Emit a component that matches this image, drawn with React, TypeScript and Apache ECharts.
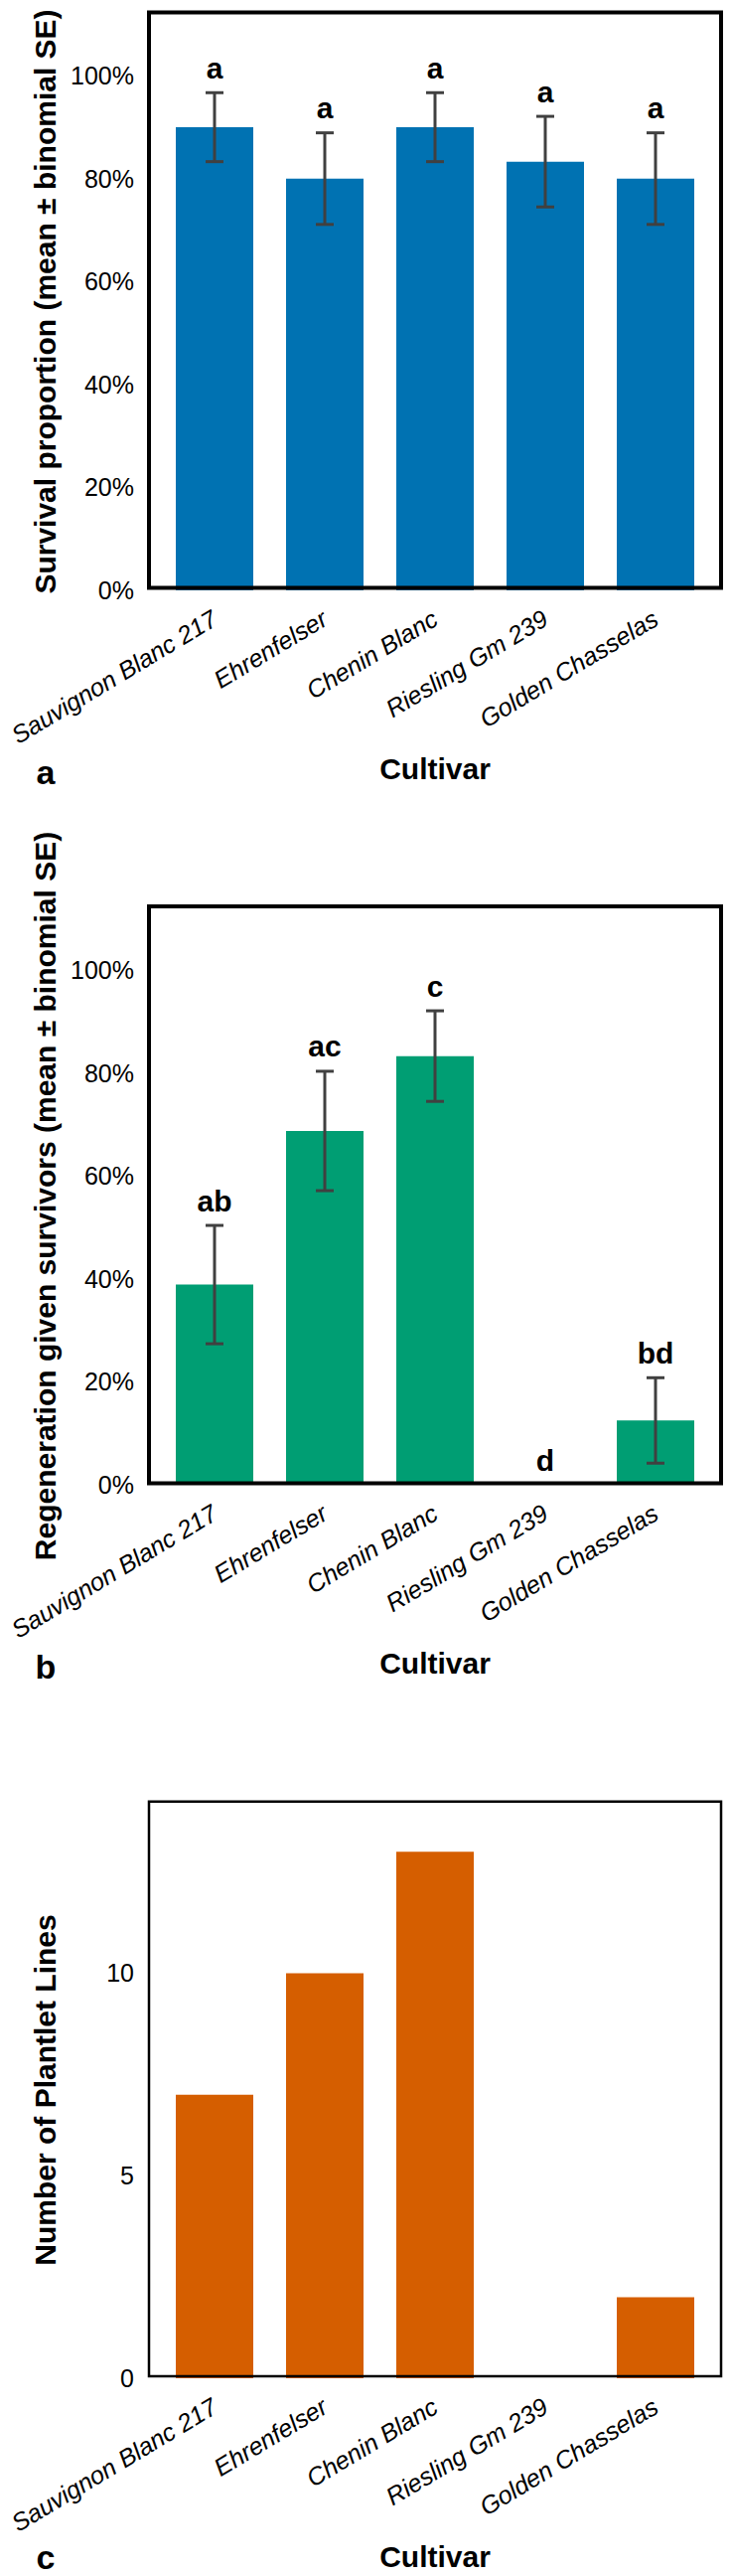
import React, { useEffect, useRef } from "react";
import * as echarts from "echarts";

// Cultivars on every panel's x axis
const cultivars = [
  "Sauvignon Blanc 217",
  "Ehrenfelser",
  "Chenin Blanc",
  "Riesling Gm 239",
  "Golden Chasselas",
];

// Panel a: survival proportion, mean and binomial SE, with group letters
const survivalMean = [0.9, 0.8, 0.9, 0.833, 0.8];
const survivalSE = [0.067, 0.089, 0.067, 0.088, 0.089];
const survivalLetters = ["a", "a", "a", "a", "a"];

// Panel b: regeneration given survivors, mean and binomial SE, with group letters
const regenMean = [0.389, 0.6875, 0.833, 0, 0.125];
const regenSE = [0.115, 0.116, 0.088, 0, 0.083];
const regenLetters = ["ab", "ac", "c", "d", "bd"];

// Panel c: number of plantlet lines
const plantletLines = [7, 10, 13, 0, 2];

// Tick labels shown on the value axes
const percentTicks = [0, 0.2, 0.4, 0.6, 0.8, 1.0];
const countTicks = [0, 5, 10];

const FONT = "'Liberation Sans', Arial, Helvetica, sans-serif";
const BLUE = "#0072B2";
const GREEN = "#009E73";
const ORANGE = "#D55E00";

// Grid geometry (category band inside each framed plot box)
const GRID_LEFT = 160.5;
const GRID_RIGHT = 20.5;
const PANEL_TOPS = [13, 913, 1813];
const PANEL_H = [581, 581, 580];

function isTick(v: number, ticks: number[]) {
  return ticks.some((t) => Math.abs(t - v) < 1e-6);
}

function errorSeries(idx: number, means: number[], ses: number[], letters: string[]) {
  return {
    type: "custom",
    xAxisIndex: idx,
    yAxisIndex: idx,
    z: 10,
    encode: { x: 0, y: [1, 2] },
    data: means.map((m, i) => [i, m - ses[i], m + ses[i]]),
    renderItem: (params: any, api: any) => {
      const i = api.value(0);
      const lo = api.coord([i, api.value(1)]);
      const hi = api.coord([i, api.value(2)]);
      const half = 9;
      const stroke = { stroke: "#404040", lineWidth: 3 };
      const children: any[] = [];
      if (lo[1] - hi[1] > 0.5) {
        children.push(
          { type: "line", shape: { x1: hi[0], y1: hi[1], x2: lo[0], y2: lo[1] }, style: stroke },
          { type: "line", shape: { x1: hi[0] - half, y1: hi[1], x2: hi[0] + half, y2: hi[1] }, style: stroke },
          { type: "line", shape: { x1: lo[0] - half, y1: lo[1], x2: lo[0] + half, y2: lo[1] }, style: stroke }
        );
      }
      children.push({
        type: "text",
        x: hi[0],
        y: hi[1] - 25,
        style: {
          text: letters[params.dataIndex],
          fontSize: 30,
          fontWeight: "bold",
          fontFamily: FONT,
          fill: "#000",
          align: "center",
          verticalAlign: "middle",
        },
      });
      return { type: "group", children };
    },
  };
}

export default function App() {
  const ref = useRef<HTMLDivElement>(null);

  useEffect(() => {
    if (!ref.current) return;
    const chart = echarts.init(ref.current, undefined, { renderer: "svg" });

    const grids = PANEL_TOPS.map((top, i) => ({
      left: GRID_LEFT,
      right: GRID_RIGHT,
      top,
      height: PANEL_H[i],
    }));

    const xAxes = PANEL_TOPS.map((_, i) => ({
      type: "category",
      gridIndex: i,
      data: cultivars,
      axisLine: { show: false },
      axisTick: { show: false },
      axisLabel: {
        interval: 0,
        rotate: 31,
        margin: 26,
        fontSize: 25,
        fontStyle: "italic",
        fontFamily: FONT,
        color: "#000",
      },
      name: "Cultivar",
      nameLocation: "middle",
      nameGap: 164,
      nameTextStyle: { fontSize: 30, fontWeight: "bold", fontFamily: FONT, color: "#000" },
    }));

    const yNames = [
      "Survival proportion (mean \u00b1 binomial SE)",
      "Regeneration given survivors (mean \u00b1 binomial SE)",
      "Number of Plantlet Lines",
    ];

    const yAxes = PANEL_TOPS.map((_, i) => {
      const pct = i < 2;
      return {
        type: "value",
        gridIndex: i,
        min: 0,
        max: pct ? 1.122 : 14.23,
        interval: pct ? 0.2 : 5,
        axisLine: { show: false },
        axisTick: { show: false },
        splitLine: { show: false },
        axisLabel: {
          margin: 25.5,
          fontSize: 25,
          fontFamily: FONT,
          color: "#000",
          formatter: (v: number) =>
            pct
              ? isTick(v, percentTicks) ? `${Math.round(v * 100)}%` : ""
              : isTick(v, countTicks) ? `${v}` : "",
        },
        name: yNames[i],
        nameLocation: "middle",
        nameRotate: 90,
        nameGap: 100,
        nameTextStyle: { fontSize: 30, fontWeight: "bold", fontFamily: FONT, color: "#000" },
      };
    });

    const barSeries = (idx: number, values: number[], color: string) => ({
      type: "bar",
      xAxisIndex: idx,
      yAxisIndex: idx,
      data: values,
      barWidth: 78,
      itemStyle: { color },
    });

    const frame = (y: number, h: number, lw: number) => ({
      type: "rect",
      z: 100,
      shape: { x: 150, y, width: 576, height: h },
      style: { fill: "transparent", stroke: "#000", lineWidth: lw },
    });

    const panelLetter = (text: string, y: number) => ({
      type: "text",
      z: 100,
      x: 46,
      y,
      style: {
        text,
        fontSize: 34,
        fontWeight: "bold",
        fontFamily: FONT,
        fill: "#000",
        align: "center",
        verticalAlign: "middle",
      },
    });

    chart.setOption({
      animation: false,
      backgroundColor: "#fff",
      grid: grids,
      xAxis: xAxes,
      yAxis: yAxes,
      series: [
        barSeries(0, survivalMean, BLUE),
        errorSeries(0, survivalMean, survivalSE, survivalLetters),
        barSeries(1, regenMean, GREEN),
        errorSeries(1, regenMean, regenSE, regenLetters),
        barSeries(2, plantletLines, ORANGE),
      ],
      graphic: [
        frame(12.5, 579, 4),
        frame(912, 580.5, 4),
        frame(1812.7, 578.3, 2.5),
        panelLetter("a", 777),
        panelLetter("b", 1677),
        panelLetter("c", 2573),
      ],
    });

    return () => chart.dispose();
  }, []);

  return (
    <div
      ref={ref}
      style={{ position: "absolute", left: 0, top: 0, width: 736, height: 2592, background: "#fff" }}
    />
  );
}
